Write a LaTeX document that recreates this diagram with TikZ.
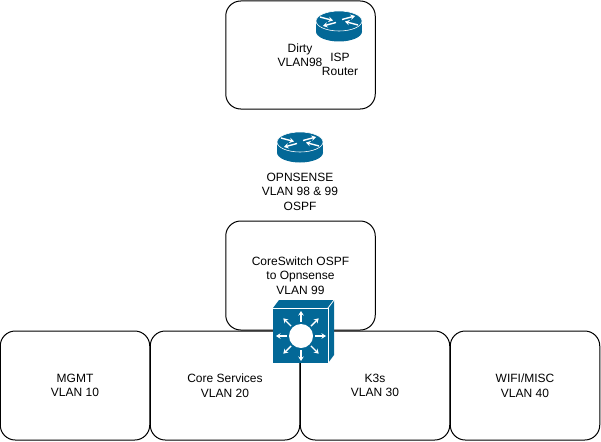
\documentclass[tikz,border=0pt]{standalone}
\usepackage{fontspec}
\setmainfont{Liberation Sans}
\definecolor{ciscoblue}{HTML}{036897}
\tikzset{
  vlanbox/.style={draw=black, line width=1pt, fill=white, rounded corners=15pt, minimum width=149.5pt, align=center, font=\fontsize{12}{14.5}\selectfont},
  label/.style={align=center, inner sep=0pt, font=\fontsize{12}{14.5}\selectfont},
  whitearrow/.style={white, line width=1.4pt, -{Stealth[length=4.5pt,width=5.5pt]}},
  pics/router/.style={code={
    \fill[ciscoblue] (23,20.5) ellipse [x radius=23pt, y radius=10pt];
    \fill[ciscoblue] (0,10) rectangle (46,20.5);
    \draw[white, fill=ciscoblue, line width=0.6pt] (23,10) ellipse [x radius=23pt, y radius=10pt];
    \draw[whitearrow] (4,6) -- (17,9.5);
    \draw[whitearrow] (20,11.5) -- (7,15);
    \draw[whitearrow] (42,14) -- (29,10.5);
    \draw[whitearrow] (26,8.5) -- (39,5);
  }},
  pics/coreswitch/.style={code={
    \fill[ciscoblue] (0,8) -- (6,0) -- (61,0) -- (55,8) -- cycle;
    \fill[ciscoblue] (55,8) -- (61,0) -- (61,55) -- (55,63) -- cycle;
    \fill[ciscoblue] (0,8) rectangle (55,63);
    \draw[white, line width=0.8pt] (0,8) -- (55,8) -- (55,63);
    \draw[white, line width=0.8pt] (55,8) -- (61,0);
    \fill[white] (28,36) circle (12pt);
    \foreach \a in {0,45,...,315}
      \draw[whitearrow] ($(28,36)+(\a:14pt)$) -- ($(28,36)+(\a:25pt)$);
  }}
}
\usetikzlibrary{arrows.meta,calc}
\begin{document}
\begin{tikzpicture}[x=1pt, y=-1pt]
  \useasboundingbox (0,0) rectangle (601,441);
  % top boxes
  \node[vlanbox, minimum height=108pt] (dirty) at (300.5,55) {};
  \node[vlanbox, minimum height=109pt] (core) at (300.5,275.5) {CoreSwitch OSPF\\to Opnsense\\VLAN 99};
  % vlan row
  \node[vlanbox, minimum height=109pt] (mgmt) at (75,385.5) {MGMT\\VLAN 10};
  \node[vlanbox, minimum height=109pt] (services) at (225,385.5) {Core Services\\VLAN 20};
  \node[vlanbox, minimum height=109pt] (k3s) at (375,385.5) {K3s\\VLAN 30};
  \node[vlanbox, minimum height=109pt] (wifi) at (525,385.5) {WIFI/MISC\\VLAN 40};
  % texts
  \node[label] (dirtylabel) at (300,55) {Dirty\\VLAN98};
  \node[label] (isplabel) at (340,64.5) {ISP\\Router};
  \node[label] (opnsense) at (300,191.5) {OPNSENSE\\VLAN 98 \& 99\\OSPF};
  % icons
  \pic at (316,11) {router};
  \pic at (277,132) {router};
  \pic at (273,300) {coreswitch};
\end{tikzpicture}
\end{document}
